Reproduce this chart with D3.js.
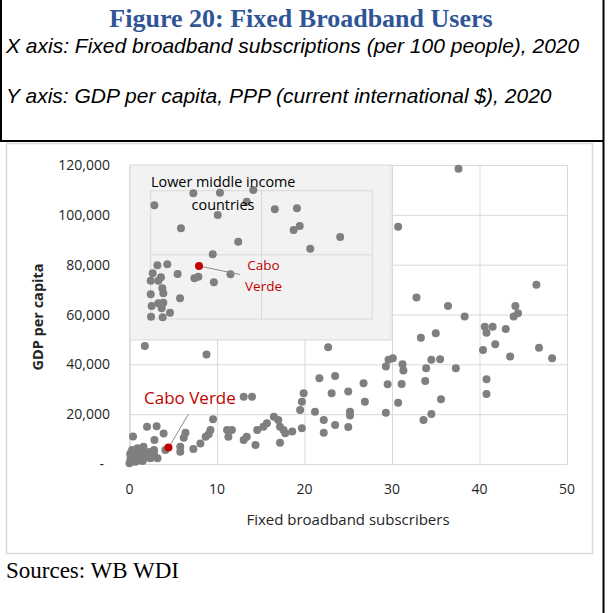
<!DOCTYPE html>
<html>
<head>
<meta charset="utf-8">
<script src="https://cdn.jsdelivr.net/npm/d3@7"></script>
<style>
  html, body { margin: 0; padding: 0; background: #fff; }
  svg { display: block; }
</style>
</head>
<body>
<svg id="chart" width="608" height="613"></svg>
<script>
// ---------- DATA ----------
const titleText = "Figure 20: Fixed Broadband Users";
const subtitleX = "X axis: Fixed broadband subscriptions (per 100 people), 2020";
const subtitleY = "Y axis: GDP per capita, PPP (current international $), 2020";
const sourceText = "Sources: WB WDI";

const xTicks = [0, 10, 20, 30, 40, 50];
const yTicks = [0, 20000, 40000, 60000, 80000, 100000, 120000];
const yTickLabels = ["-", "20,000", "40,000", "60,000", "80,000", "100,000", "120,000"];

// main scatter: fixed broadband per 100 people (x) vs GDP per capita PPP (y)
const mainX = [
  1.75, 8.8, 2.0, 3.1, 9.55, 0.4, 3.9, 2.85, 6.4, 6.2, 9.25, 9.05, 8.7, 8.1, 7.3, 5.8, 5.8,
  4.1, 2.8, 2.8, 1.6, 0.9, 0.3, 0.1, 0.1, 0.5, 1.05, 1.45, 2.0, 2.4, 3.2, 0.0, 0.7,
  0.2, 1.2, 0.6, 1.7, 2.3, 0.3, 1.0, 1.5, 0.4, 1.9, 2.6, 0.8, 0.1, 1.3,
  11.15, 11.7, 11.3, 13.05, 14.0, 13.05, 13.4, 14.4, 14.6, 15.3, 15.7, 16.5, 17.0, 17.2,
  17.6, 17.8, 17.2, 18.6, 19.7, 19.5, 19.7, 19.9, 21.2, 21.7, 23.5, 22.2, 22.2, 23.1,
  23.5, 25.0, 25.2, 25.2, 25.0, 22.7, 26.75, 26.9, 29.3, 29.6, 30.1, 29.5, 29.3, 30.7,
  31.1, 31.2, 31.3, 32.8, 36.4, 38.3, 46.5, 44.1, 43.9, 44.4, 40.6, 41.5, 40.8, 43.0,
  33.3, 35.0, 40.4, 41.8, 43.5, 46.8, 48.3, 34.5, 35.5, 33.9, 37.3, 33.8, 35.6, 34.5,
  33.6, 40.8, 40.8, 37.6, 30.7
];
const mainY = [
  47400, 43900, 15000, 15200, 17950, 11000, 12200, 9640, 12500, 10500, 13650, 11900, 10960, 8200, 6000, 6950, 4950,
  5600, 5600, 4000, 6950, 6300, 5600, 3600, 1600, 2300, 4300, 2900, 3600, 2300, 2300, 300, 900,
  800, 1500, 4500, 5000, 4800, 2900, 2000, 1200, 3800, 2600, 3200, 5200, 4200, 3400,
  13650, 13650, 10960, 27000, 27000, 9640, 10960, 7630, 13650, 15000, 16350, 19000, 17670, 15000,
  13650, 12300, 8550, 13000, 14300, 21700, 25000, 28400, 21000, 34400, 35300, 17670, 12570, 28400,
  15660, 29100, 21000, 19500, 14800, 46900, 32400, 25000, 39100, 41800, 42400, 32000, 20600, 24600,
  32100, 40000, 37500, 66800, 63450, 59150, 71900, 63450, 59150, 60500, 55100, 55100, 52700, 54200,
  50700, 52500, 45800, 48100, 43100, 46700, 42400, 41800, 42000, 38400, 38400, 33300, 26000, 20100,
  17700, 34000, 28100, 118500, 95200
];
const caboMain = [4.45, 6600];

// inset: lower middle income countries (unlabelled axes)
const insetXDomain = [0, 20];
const insetYDomain = [0, 16000];
const insetXGrid = [0, 10, 20];
const insetYGrid = [0, 8000, 16000];
const insetX = [
  0.33, 3.85, 6.25, 9.26, 8.66, 6.05, 2.73, 7.9, 5.6, 11.2, 13.2, 12.9, 13.45, 17.1, 14.4,
  7.2, 3.94, 4.3, 5.7, 2.43, 0.6, 1.5, 0.18, 0.93, 0.0, 0.69, 1.05, 1.14, 0.0, 2.65,
  0.09, 0.69, 1.14, 0.99, 1.74, 0.03, 1.08
];
const insetY = [
  14200, 15670, 15750, 16090, 14630, 12970, 11310, 9640, 8070, 13680, 13800, 11100, 11600, 10230, 8770,
  5570, 5070, 5270, 4570, 5610, 6700, 6820, 5700, 5200, 4780, 4780, 3830, 3200, 3080, 2580,
  1620, 1960, 2030, 1330, 790, 290, 210
];
const caboInset = [4.36, 6610];

// ---------- DRAW ----------
const svg = d3.select("#chart");
const grid = "#d9d9d9";
const dotColor = "#7f7f7f";
const red = "#c00000";
const textCol = "#262626";
const tickFont = "'Open Sans', 'Noto Sans', sans-serif";

svg.append("rect").attr("width", 608).attr("height", 613).attr("fill", "#fff");

// header frame
svg.append("line").attr("x1", 1).attr("x2", 1).attr("y1", 0).attr("y2", 141).attr("stroke", "#000").attr("stroke-width", 2);
svg.append("line").attr("x1", 603.5).attr("x2", 603.5).attr("y1", 0).attr("y2", 613).attr("stroke", "#000").attr("stroke-width", 2);
svg.append("line").attr("x1", 0).attr("x2", 604).attr("y1", 141).attr("y2", 141).attr("stroke", "#000").attr("stroke-width", 2);

svg.append("text").attr("x", 301).attr("y", 27).attr("text-anchor", "middle")
  .attr("font-family", "'Liberation Serif', 'Times New Roman', serif").attr("font-weight", "bold")
  .attr("font-size", 26).attr("fill", "#2f5597").text(titleText);
svg.append("text").attr("x", 6).attr("y", 53).attr("font-family", "'Liberation Sans', Arial, sans-serif")
  .attr("font-style", "italic").attr("font-size", 21).attr("fill", "#000").text(subtitleX);
svg.append("text").attr("x", 6).attr("y", 103).attr("font-family", "'Liberation Sans', Arial, sans-serif")
  .attr("font-style", "italic").attr("font-size", 21).attr("fill", "#000").text(subtitleY);

// chart box
svg.append("rect").attr("x", 6.5).attr("y", 143.5).attr("width", 586).attr("height", 410)
  .attr("fill", "#fff").attr("stroke", grid).attr("stroke-width", 1.5);

const x = d3.scaleLinear().domain([0, 50]).range([129.5, 567]);
const y = d3.scaleLinear().domain([0, 120000]).range([464, 165]);

// gridlines via axes
const gx = svg.append("g").attr("transform", `translate(0,${y(0)})`)
  .call(d3.axisBottom(x).tickValues(xTicks).tickSize(-(y(0) - y(120000))).tickFormat(""));
gx.selectAll("line").attr("stroke", grid);
gx.select(".domain").attr("stroke", grid);
const gy = svg.append("g").attr("transform", `translate(${x(0)},0)`)
  .call(d3.axisLeft(y).tickValues(yTicks).tickSize(-(x(50) - x(0))).tickFormat(""));
gy.selectAll("line").attr("stroke", grid);
gy.select(".domain").attr("stroke", grid);

// tick labels
svg.append("g").selectAll("text").data(xTicks).join("text")
  .attr("x", d => x(d)).attr("y", 494).attr("text-anchor", "middle")
  .attr("font-family", tickFont).attr("font-size", 14).attr("fill", textCol).text(d => d);
svg.append("g").selectAll("text").data(yTicks).join("text")
  .attr("x", (d, i) => i === 0 ? 104 : 110).attr("y", d => y(d) + 5).attr("text-anchor", "end")
  .attr("font-family", tickFont).attr("font-size", 14).attr("fill", textCol).text((d, i) => yTickLabels[i]);

// axis titles
svg.append("text").attr("x", 348).attr("y", 525).attr("text-anchor", "middle")
  .attr("font-family", tickFont).attr("font-size", 15).attr("fill", textCol).text("Fixed broadband subscribers");
svg.append("text").attr("transform", "translate(43,317) rotate(-90)").attr("text-anchor", "middle")
  .attr("font-family", tickFont).attr("font-weight", "bold").attr("font-size", 14.5).attr("fill", textCol).text("GDP per capita");

// main points
const mainData = mainX.map((v, i) => ({ x: v, y: mainY[i] }));
svg.append("g").selectAll("circle").data(mainData).join("circle")
  .attr("cx", d => x(d.x)).attr("cy", d => y(d.y)).attr("r", 4).attr("fill", dotColor);

// Cabo Verde main
svg.append("line").attr("x1", x(caboMain[0]) + 2).attr("y1", y(caboMain[1]) - 3)
  .attr("x2", 188.5).attr("y2", 414).attr("stroke", "#8c8c8c").attr("stroke-width", 1);
svg.append("circle").attr("cx", x(caboMain[0])).attr("cy", y(caboMain[1])).attr("r", 4).attr("fill", red);
svg.append("text").attr("x", 144).attr("y", 404).attr("font-family", tickFont).attr("font-size", 17)
  .attr("fill", red).text("Cabo Verde");

// ---------- INSET ----------
const inset = svg.append("g");
inset.append("rect").attr("x", 130).attr("y", 165).attr("width", 261).attr("height", 175)
  .attr("fill", "#f2f2f2").attr("stroke", grid).attr("stroke-width", 1);
const ix = d3.scaleLinear().domain(insetXDomain).range([150.7, 372.3]);
const iy = d3.scaleLinear().domain(insetYDomain).range([319, 190.7]);
inset.append("g").selectAll("line").data(insetXGrid).join("line")
  .attr("x1", d => ix(d)).attr("x2", d => ix(d)).attr("y1", iy(insetYDomain[0])).attr("y2", iy(insetYDomain[1]))
  .attr("stroke", grid);
inset.append("g").selectAll("line").data(insetYGrid).join("line")
  .attr("y1", d => iy(d)).attr("y2", d => iy(d)).attr("x1", ix(insetXDomain[0])).attr("x2", ix(insetXDomain[1]))
  .attr("stroke", grid);

const insetData = insetX.map((v, i) => ({ x: v, y: insetY[i] }));
inset.append("g").selectAll("circle").data(insetData).join("circle")
  .attr("cx", d => ix(d.x)).attr("cy", d => iy(d.y)).attr("r", 4).attr("fill", dotColor);

inset.append("line").attr("x1", ix(caboInset[0])).attr("y1", iy(caboInset[1]))
  .attr("x2", 240).attr("y2", 274.5).attr("stroke", "#8c8c8c").attr("stroke-width", 1);
inset.append("circle").attr("cx", ix(caboInset[0])).attr("cy", iy(caboInset[1])).attr("r", 4).attr("fill", red);
inset.append("text").attr("x", 263.5).attr("y", 270).attr("text-anchor", "middle")
  .attr("font-family", tickFont).attr("font-size", 13.5).attr("fill", red).text("Cabo");
inset.append("text").attr("x", 263.5).attr("y", 291).attr("text-anchor", "middle")
  .attr("font-family", tickFont).attr("font-size", 13.5).attr("fill", red).text("Verde");

inset.append("text").attr("x", 151).attr("y", 186.5)
  .attr("font-family", tickFont).attr("font-size", 14.4).attr("fill", "#000").text("Lower middle income");
inset.append("text").attr("x", 223).attr("y", 210).attr("text-anchor", "middle")
  .attr("font-family", tickFont).attr("font-size", 14.4).attr("fill", "#000").text("countries");

// source
svg.append("text").attr("x", 6).attr("y", 578)
  .attr("font-family", "'Liberation Serif', 'Times New Roman', serif").attr("font-size", 23)
  .attr("fill", "#000").text(sourceText);
</script>
</body>
</html>
